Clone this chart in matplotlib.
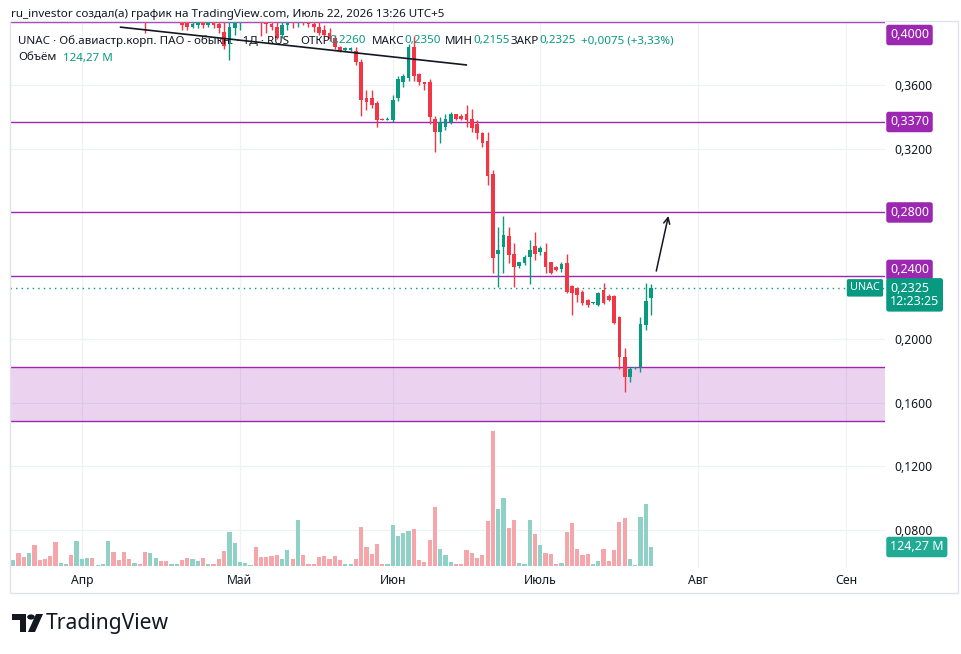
import matplotlib
matplotlib.use('Agg')
import matplotlib.pyplot as plt
from matplotlib.patches import Rectangle, Circle, Polygon

plt.rcParams['font.family'] = ['Noto Sans', 'DejaVu Sans']

# daily bars, index 0 = mid-March ... 121 = Jul 22
opens = [.425, .429, .423, .418, .426, .414, .412, .410, .407, .403,
         .408, .410, .406, .418, .421, .423, .420, .421, .422, .431,
         .426, .424, .417, .415, .417, .412, .404, .408, .410, .405,
         .403, .406, .402, .400, .397, .398, .401, .398, .401, .399,
         .394, .386, .396, .404, .409, .415, .417, .406, .401, .399,
         .397, .392, .398, .402, .400, .409, .402, .399, .397, .395,
         .393, .390, .384, .3825, .3825, .382, .375, .352, .352, .349,
         .3392, .3385, .338, .352, .362, .365, .384, .367, .362, .362,
         .339, .331, .334, .337, .342, .341, .342, .339, .336, .330,
         .325, .304, .2539, .2583, .2652, .2539, .2463, .2482, .2520, .2589,
         .2551, .2551, .2488, .2457, .2444, .2482, .2337, .2324, .2299, .2249,
         .2228, .2217, .2312, .2274, .2274, .2142, .1890, .1764, .1818, .1827,
         .2091, .2260]
highs = [.432, .433, .426, .428, .429, .417, .415, .414, .410, .409,
         .411, .412, .420, .423, .425, .424, .422, .423, .434, .433,
         .428, .426, .419, .418, .418, .416, .410, .412, .411, .407,
         .408, .409, .405, .402, .402, .403, .404, .403, .403, .403,
         .400, .401, .408, .412, .418, .420, .419, .409, .404, .402,
         .400, .402, .404, .404, .412, .411, .404, .402, .401, .398,
         .396, .392, .385, .3840, .3840, .384, .377, .357, .3572, .350,
         .3396, .3400, .354, .366, .367, .386, .391, .368, .362, .364,
         .341, .340, .342, .343, .342, .342, .348, .345, .338, .331,
         .331, .307, .2710, .2778, .2709, .2608, .2490, .2530, .2627, .2677,
         .2590, .2608, .2490, .2460, .2490, .2539, .2340, .2331, .2310, .2255,
         .2235, .2300, .2356, .2285, .2280, .2145, .1946, .1827, .1825, .2142,
         .2356, .2350]
lows = [.421, .420, .416, .416, .412, .410, .408, .405, .402, .402,
        .406, .405, .405, .416, .419, .419, .419, .420, .421, .424,
        .422, .415, .413, .413, .412, .393, .402, .405, .404, .401,
        .401, .402, .395, .395, .396, .396, .396, .397, .396, .393,
        .383, .376, .392, .395, .405, .412, .404, .391, .393, .395,
        .389, .390, .395, .396, .397, .398, .397, .394, .392, .391,
        .388, .383, .381, .3820, .3815, .373, .341, .3446, .3458, .334,
        .3380, .3380, .337, .350, .359, .363, .363, .360, .357, .336,
        .318, .324, .332, .336, .338, .338, .334, .331, .326, .321,
        .297, .242, .2331, .2419, .2482, .2331, .2450, .2470, .2350, .2501,
        .2535, .2419, .2410, .2430, .2425, .2293, .2154, .2236, .2217, .2205,
        .2225, .2210, .2225, .2243, .2100, .1814, .1669, .1732, .1815, .1795,
        .2060, .2155]
closes = [.429, .423, .418, .426, .414, .412, .410, .407, .403, .408,
          .410, .406, .418, .421, .423, .420, .421, .422, .431, .426,
          .424, .417, .415, .417, .413, .404, .408, .410, .405, .403,
          .406, .407, .398, .397, .399, .401, .398, .401, .398, .396,
          .385, .397, .404, .409, .415, .417, .406, .401, .399, .397,
          .390, .398, .402, .400, .409, .402, .399, .397, .393, .392,
          .389, .384, .382, .3835, .3835, .375, .351, .3496, .3477, .338,
          .3385, .3392, .351, .364, .366, .384, .366, .362, .361, .340,
          .331, .337, .339, .342, .339, .339, .338, .333, .330, .324,
          .303, .251, .2564, .2658, .2532, .2457, .2488, .2520, .2564, .2539,
          .2576, .2457, .2419, .2438, .2476, .2299, .2293, .2280, .2230, .2217,
          .2232, .2293, .2230, .2249, .2104, .1890, .1764, .1814, .1822, .2098,
          .2242, .2325]
volumes = [39, 85, 59, 85, 137, 39, 46, 65, 157, 20,
           13, 72, 164, 46, 52, 52, 7, 13, 164, 92,
           39, 92, 46, 20, 13, 92, 85, 52, 33, 33,
           13, 13, 39, 52, 46, 33, 52, 13, 13, 46,
           98, 222, 150, 26, 20, 7, 124, 59, 59, 65,
           72, 46, 105, 46, 301, 72, 13, 13, 59, 65,
           46, 65, 39, 13, 13, 46, 255, 124, 79, 144,
           13, 13, 268, 196, 216, 229, 242, 39, 26, 170,
           386, 111, 72, 26, 13, 13, 105, 85, 52, 72,
           294, 883, 373, 445, 249, 301, 20, 13, 301, 209,
           137, 85, 79, 13, 20, 222, 281, 111, 72, 79,
           13, 33, 111, 33, 105, 288, 314, 46, 7, 320,
           405, 124.27]  # millions

month_pos = [13, 43, 72, 100, 130, 158]
month_labels = ['Апр', 'Май', 'Июн', 'Июль', 'Авг', 'Сен']
price_ticks = [0.08, 0.12, 0.16, 0.20, 0.24, 0.28, 0.32, 0.36]
level_lines = [0.4000, 0.3370, 0.2800, 0.2400]
zone_low, zone_high = 0.1485, 0.1825
trend_x = [20.2, 86.1]
trend_y = [0.3968, 0.3729]
arrow_from = (122.0, 0.2431)
arrow_to = (124.3, 0.2778)
last_price = 0.2325
ticker = 'UNAC'

UP = '#089981'
DOWN = '#f23645'
PURPLE = '#9c27b0'
TXT = '#131722'
W, H = 961, 654


def fx(x):
    return x / W


def fy(y):
    return 1 - y / H


def fmt(v):
    return f'{v:.4f}'.replace('.', ',')


fig = plt.figure(figsize=(W / 100, H / 100), dpi=100, facecolor='white')
ax = fig.add_axes([fx(10), fy(568), fx(875), 546 / H])

# volume overlay (twin axis, created first so the price scale can stay on the right)
ax2 = ax.twinx()
ax2.set_ylim(-13.1, 3558)
ax2.axis('off')

ax.set_xlim(-0.63, 165.4)
ax.set_ylim(0.056, 0.400)
for s in ax.spines.values():
    s.set_visible(False)

ax.set_xticks(month_pos, month_labels)
ax.set_yticks(price_ticks, [fmt(v) if all(abs(v - l) > 1e-6 for l in level_lines) else ''
                            for v in price_ticks])
ax.yaxis.tick_right()
ax.tick_params(axis='y', left=False, labelleft=False, right=True, labelright=True)
ax.tick_params(axis='x', length=0, pad=4, labelsize=8.8, labelcolor=TXT)
ax.tick_params(axis='y', length=0, pad=7, labelsize=8.8, labelcolor=TXT)
ax.grid(color='#eef1f6', lw=0.9)
ax.set_axisbelow(True)

# zone and levels
ax.axhspan(zone_low, zone_high, color=PURPLE, alpha=0.2, lw=0, zorder=1)
ax.axhline(zone_low, color=PURPLE, lw=1, zorder=1.5)
ax.axhline(zone_high, color=PURPLE, lw=1, zorder=1.5)
for lv in level_lines:
    ax.axhline(lv, color=PURPLE, lw=1, zorder=1.5)
ax.axhline(last_price, color=UP, lw=1, ls=(0, (1, 3)), zorder=1.5)

# candles
n = len(opens)
idx = list(range(n))
ups = [c >= o for o, c in zip(opens, closes)]
cols = [UP if u else DOWN for u in ups]
ax.vlines(idx, lows, highs, colors=cols, lw=1, zorder=3)
bottoms = [min(o, c) for o, c in zip(opens, closes)]
heights = [max(abs(c - o), 0.0007) for o, c in zip(opens, closes)]
ax.bar(idx, heights, bottom=bottoms, width=0.7, color=cols, lw=0, zorder=3.1)

# trendline and arrow
ax.plot(trend_x, trend_y, color=TXT, lw=1.2, zorder=4, solid_capstyle='butt')
ax.annotate('', xy=arrow_to, xytext=arrow_from,
            arrowprops=dict(arrowstyle='->', color=TXT, lw=1.1, mutation_scale=11,
                            shrinkA=0, shrinkB=0), zorder=4)

vcols = ['#8fd1c6' if u else '#f5a6ab' for u in ups]
ax2.bar(idx, volumes, width=0.8, color=vcols, lw=0)

# badges on the price scale
bb = dict(boxstyle='round,pad=0.3,rounding_size=0.2', ec='none')
ax.annotate(fmt(level_lines[0]), xy=(1, (568 - 35) / 546), xycoords='axes fraction',
            xytext=(5, 0), textcoords='offset pixels', ha='left', va='center',
            color='white', fontsize=9, fontweight='bold', bbox=dict(bb, fc=PURPLE),
            annotation_clip=False, zorder=6)
for lv, dy in zip(level_lines[1:], [0, 0, 6]):
    ax.annotate(fmt(lv), xy=(1, lv), xycoords=('axes fraction', 'data'),
                xytext=(5, dy), textcoords='offset pixels', ha='left', va='center',
                color='white', fontsize=9, fontweight='bold', bbox=dict(bb, fc=PURPLE),
                annotation_clip=False, zorder=6)
ax.annotate(fmt(last_price) + '\n12:23:25', xy=(1, last_price), xycoords=('axes fraction', 'data'),
            xytext=(5, -7), textcoords='offset pixels', ha='left', va='center',
            color='white', fontsize=9, fontweight='bold', linespacing=1.0,
            bbox=dict(bb, fc=UP), annotation_clip=False, zorder=6)
ax.annotate(ticker, xy=(1, last_price), xycoords=('axes fraction', 'data'),
            xytext=(-20, 0), textcoords='offset pixels', ha='center', va='center',
            color='white', fontsize=7.8, fontweight='bold',
            bbox=dict(boxstyle='round,pad=0.3,rounding_size=0.15', fc=UP, ec='none'),
            annotation_clip=False, zorder=6)
ax2.annotate(f'{volumes[-1]:.2f}'.replace('.', ',') + ' M', xy=(1, volumes[-1]),
             xycoords=('axes fraction', 'data'), xytext=(5, 0), textcoords='offset pixels',
             ha='left', va='center', color='white', fontsize=9, fontweight='bold',
             bbox=dict(bb, fc='#22ab94'), annotation_clip=False, zorder=6)

# frame
fig.patches.append(Rectangle((fx(10), fy(593)), fx(948), (593 - 21) / H, transform=fig.transFigure,
                             fill=False, ec='#e0e3eb', lw=1))

# header and legend
fig.text(fx(11), fy(14), 'ru_investor создал(а) график на TradingView.com, Июль 22, 2026 13:26 UTC+5',
         fontsize=8.4, color=TXT, va='center')
renderer = fig.canvas.get_renderer()
legend_groups = [
    (18, [('UNAC · Об.авиастр.корп. ПАО - обыкн. · 1Д · RUS', TXT)]),
    (300, [('ОТКР', TXT), (fmt(opens[-1]), UP)]),
    (372, [('МАКС', TXT), (fmt(highs[-1]), UP)]),
    (445, [('МИН', TXT), (fmt(lows[-1]), UP)]),
    (511, [('ЗАКР', TXT), (fmt(closes[-1]), UP)]),
    (581, [('+0,0075 (+3,33%)', UP)]),
]
for x0, parts in legend_groups:
    x = x0
    for t, c in parts:
        txt = fig.text(fx(x), fy(41), t, fontsize=8.35, color=c, va='center', zorder=10)
        x += txt.get_window_extent(renderer).width
fig.text(fx(18), fy(58), 'Объём', fontsize=8.35, color=TXT, va='center', zorder=10)
fig.text(fx(63), fy(58), f'{volumes[-1]:.2f}'.replace('.', ',') + ' M', fontsize=8.35,
         color=UP, va='center', zorder=10)

# TradingView logo
fig.patches.append(Rectangle((fx(12), fy(620)), fx(14), 6 / H, transform=fig.transFigure,
                             fc=TXT, ec='none'))
fig.patches.append(Rectangle((fx(20), fy(632)), fx(6), 18 / H, transform=fig.transFigure,
                             fc=TXT, ec='none'))
fig.patches.append(Circle((fx(31), fy(617)), 2.6 / H, transform=fig.transFigure, fc=TXT, ec='none'))
fig.patches.append(Polygon([(fx(28), fy(632)), (fx(36), fy(614)), (fx(43), fy(614)), (fx(35), fy(632))],
                           closed=True, transform=fig.transFigure, fc=TXT, ec='none'))
fig.text(fx(46), fy(624), 'TradingView', fontsize=15.2, fontweight='bold', color=TXT, va='center')

fig.savefig('out.png', dpi=100, facecolor='white')
